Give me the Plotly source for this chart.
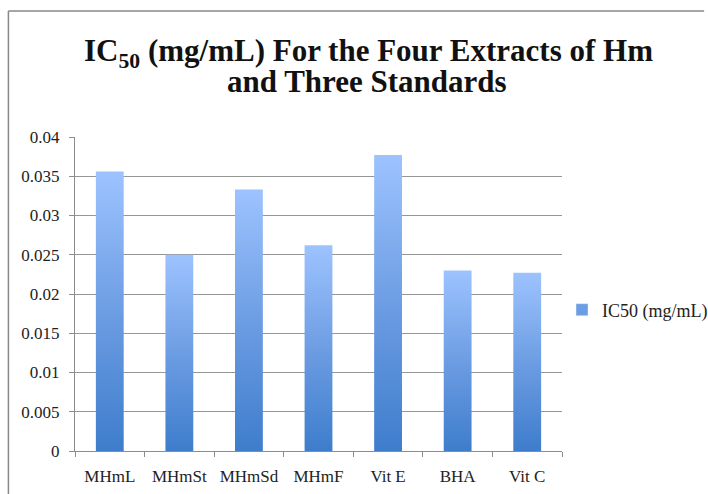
import plotly.graph_objects as go

# IC50 values (mg/mL) for the four Hm extracts and three standards
categories = ["MHmL", "MHmSt", "MHmSd", "MHmF", "Vit E", "BHA", "Vit C"]
ic50_values = [0.0356, 0.0250, 0.0333, 0.0262, 0.0377, 0.0230, 0.0227]
series_name = "IC50 (mg/mL)"
y_ticks = [0, 0.005, 0.01, 0.015, 0.02, 0.025, 0.03, 0.035, 0.04]
title_lines = ["IC<sub>50</sub> (mg/mL) For the Four Extracts of Hm", "and Three Standards"]

BAR_WIDTH = 0.4
GRADIENT = [[0.0, "#3e7dcc"], [0.5, "#6d9de3"], [1.0, "#9dc3ff"]]
FONT = "Liberation Serif"
TEXT = "#222222"

# plot area in pixels: x 75..565, y 137..451
L, R, T, B = 75, 565, 137, 451


def px_x(p):
    return (p - L) / (R - L)


def px_y(p):
    return (B - p) / (B - T)


fig = go.Figure()

# each bar is a filled rectangle on a numeric x axis so it can carry a vertical gradient
for i, v in enumerate(ic50_values):
    x0, x1 = i - BAR_WIDTH / 2, i + BAR_WIDTH / 2
    fig.add_trace(go.Scatter(
        x=[x0, x1, x1, x0, x0],
        y=[0, 0, v, v, 0],
        mode="lines",
        line=dict(width=0),
        fill="toself",
        fillgradient=dict(type="vertical", colorscale=GRADIENT),
        showlegend=False,
        hoverinfo="text",
        text=f"{categories[i]}: {v}",
    ))

# legend entry for the series
fig.add_trace(go.Bar(
    x=[None], y=[None], name=series_name,
    marker=dict(color="#6d9de3"),
    showlegend=True,
))

fig.update_layout(
    width=708, height=494,
    margin=dict(l=L, r=708 - R, t=T, b=494 - B),
    paper_bgcolor="white",
    plot_bgcolor="white",
    font=dict(family=FONT, size=17, color=TEXT),
    showlegend=True,
    legend=dict(
        xref="container", yref="container",
        x=562 / 708, xanchor="left", y=1 - 310 / 494, yanchor="middle",
        font=dict(family=FONT, size=18, color=TEXT),
        itemwidth=30, bgcolor="rgba(0,0,0,0)",
    ),
    xaxis=dict(
        range=[-0.5, len(categories) - 0.5],
        tickvals=list(range(len(categories))),
        ticktext=categories,
        ticks="",
        ticklabelstandoff=10,
        automargin=False,
        showgrid=False,
        zeroline=False,
        showline=True, linecolor="#8c8c8c", linewidth=1,
        tickfont=dict(family=FONT, size=17, color=TEXT),
        minor=dict(tick0=-0.5, dtick=1, ticks="outside", ticklen=5,
                   tickcolor="#8c8c8c", showgrid=False),
        fixedrange=True,
    ),
    yaxis=dict(
        range=[0, 0.04],
        tickvals=y_ticks,
        ticktext=[f"{t:g}" for t in y_ticks],
        ticks="outside", ticklen=5, tickcolor="#8c8c8c",
        ticklabelstandoff=6,
        automargin=False,
        showgrid=True, gridcolor="#969696", gridwidth=1,
        zeroline=False,
        showline=True, linecolor="#8c8c8c", linewidth=1,
        tickfont=dict(family=FONT, size=17, color=TEXT),
        fixedrange=True,
    ),
    annotations=[
        dict(text=f"<b>{title_lines[0]}</b>", xref="paper", yref="paper",
             x=px_x(370), y=px_y(53), xanchor="center", yanchor="middle",
             showarrow=False, font=dict(family=FONT, size=31, color="#111111")),
        dict(text=f"<b>{title_lines[1]}</b>", xref="paper", yref="paper",
             x=px_x(369), y=px_y(82), xanchor="center", yanchor="middle",
             showarrow=False, font=dict(family=FONT, size=31, color="#111111")),
    ],
    shapes=[
        # chart area frame (top and left edges)
        dict(type="line", xref="paper", yref="paper",
             x0=px_x(8), x1=px_x(708), y0=px_y(11), y1=px_y(11),
             line=dict(color="#888888", width=1.5)),
        dict(type="line", xref="paper", yref="paper",
             x0=px_x(8), x1=px_x(8), y0=px_y(11), y1=px_y(494),
             line=dict(color="#888888", width=1.5)),
    ],
)

fig.write_html("out.html", config={"displayModeBar": False})
